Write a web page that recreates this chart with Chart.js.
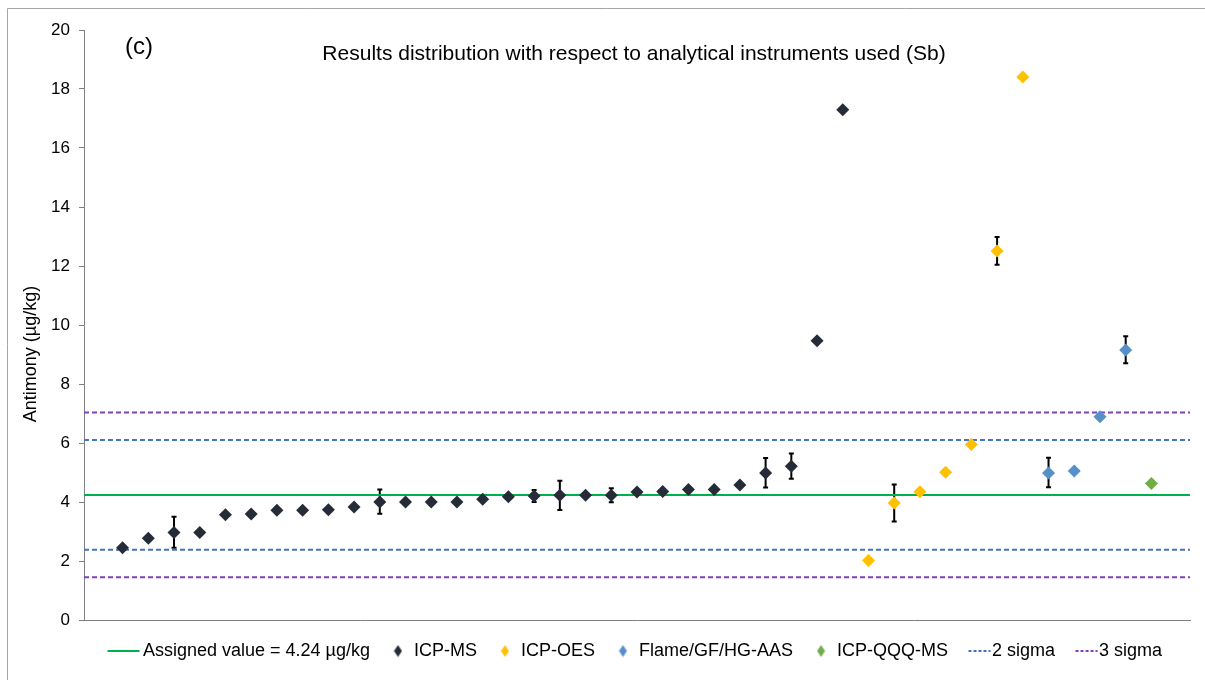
<!DOCTYPE html>
<html>
<head>
<meta charset="utf-8">
<script src="https://cdn.jsdelivr.net/npm/chart.js@4"></script>
<style>
  html, body { margin: 0; padding: 0; background: #fff; }
  #wrap { width: 1205px; height: 680px; position: relative; }
</style>
</head>
<body>
<div id="wrap"><canvas id="chart"></canvas></div>
<script>
// ── Data ────────────────────────────────────────────────
const TITLE = 'Results distribution with respect to analytical instruments used (Sb)';
const PANEL = '(c)';
const Y_TITLE = 'Antimony (µg/kg)';

const assignedValue = 4.24;
const sigma2 = [6.10, 2.38];
const sigma3 = [7.03, 1.45];

const icpMs   = [2.45, 2.77, 2.97, 2.97, 3.57, 3.59, 3.72, 3.72, 3.74, 3.83,
                 4.00, 4.00, 4.00, 4.00, 4.09, 4.18, 4.20, 4.23, 4.23, 4.23,
                 4.34, 4.36, 4.42, 4.42, 4.58, 4.98, 5.21, 9.47, 17.30];
const icpMsLo = [null, null, 2.45, null, null, null, null, null, null, null,
                 3.60, null, null, null, null, null, 4.00, 3.73, null, 3.99,
                 null, null, null, null, null, 4.49, 4.79, null, null];
const icpMsHi = [null, null, 3.50, null, null, null, null, null, null, null,
                 4.42, null, null, null, null, null, 4.41, 4.72, null, 4.47,
                 null, null, null, null, null, 5.49, 5.64, null, null];

const icpOes   = [2.02, 3.97, 4.35, 5.01, 5.95, 12.51, 18.41];
const icpOesLo = [null, 3.34, null, null, null, 12.04, null];
const icpOesHi = [null, 4.59, null, null, null, 12.98, null];

const aas   = [4.98, 5.05, 6.89, 9.15];
const aasLo = [4.50, null, null, 8.70];
const aasHi = [5.50, null, null, 9.62];

const qqq = [4.63];

const yTicks = [0, 2, 4, 6, 8, 10, 12, 14, 16, 18, 20];
const X_MIN = -0.5, X_MAX = 42.5;

// ── Helpers ─────────────────────────────────────────────
const FONT = '"Liberation Sans", Arial, sans-serif';
const COLORS = {
  assigned: '#00B050',
  icpMs:    '#252C38',
  icpOes:   '#FFC000',
  aas:      '#5591C8',
  qqq:      '#70AD47',
  sigma2:   '#4472C4',
  sigma3:   '#7F41BF',
};

// labs are ranked left to right, group after group
let rank = 0;
const toPoints = vals => vals.map(v => ({ x: ++rank, y: v }));
const hLine = v => [{ x: X_MIN, y: v }, { x: X_MAX, y: v }];

function icon(w, h, draw) {
  const c = document.createElement('canvas');
  c.width = w; c.height = h;
  draw(c.getContext('2d'));
  return c;
}
const diamondIcon = color => icon(9, 13, g => {
  g.fillStyle = color;
  g.beginPath();
  g.moveTo(4.5, 0.5); g.lineTo(8.5, 6.5); g.lineTo(4.5, 12.5); g.lineTo(0.5, 6.5);
  g.closePath(); g.fill();
});
const lineIcon = (w, x0, x1, color, dash) => icon(w, 4, g => {
  g.strokeStyle = color; g.lineWidth = 2; g.setLineDash(dash);
  g.beginPath(); g.moveTo(x0, 2); g.lineTo(x1, 2); g.stroke();
});

function pointSet(label, vals, lo, hi, color) {
  return {
    type: 'scatter', label, data: toPoints(vals), errLo: lo, errHi: hi,
    pointStyle: 'rectRot', pointRadius: 6.5, pointHoverRadius: 7,
    backgroundColor: color, borderColor: color, borderWidth: 0,
    legendIcon: diamondIcon(color), order: 0,
  };
}
function lineSet(label, v, color, dash, legend) {
  return {
    type: 'line', label, data: hLine(v), borderColor: color, backgroundColor: color,
    borderWidth: 2, borderDash: dash, pointRadius: 0, pointHoverRadius: 0,
    fill: false, legendIcon: legend, order: 1,
  };
}

const datasets = [
  lineSet('Assigned value = 4.24 µg/kg', assignedValue, COLORS.assigned, [],
          lineIcon(40, 0.5, 32.5, COLORS.assigned, [])),
  pointSet('ICP-MS', icpMs, icpMsLo, icpMsHi, COLORS.icpMs),
  pointSet('ICP-OES', icpOes, icpOesLo, icpOesHi, COLORS.icpOes),
  pointSet('Flame/GF/HG-AAS', aas, aasLo, aasHi, COLORS.aas),
  pointSet('ICP-QQQ-MS', qqq, null, null, COLORS.qqq),
  lineSet('2 sigma', sigma2[0], COLORS.sigma2, [5, 3],
          lineIcon(30, 7.5, 29.5, COLORS.sigma2, [3, 2])),
  lineSet('3 sigma', sigma3[0], COLORS.sigma3, [5, 3],
          lineIcon(30, 7.5, 29.5, COLORS.sigma3, [3, 2])),
  lineSet('2 sigma low', sigma2[1], COLORS.sigma2, [5, 3], null),
  lineSet('3 sigma low', sigma3[1], COLORS.sigma3, [5, 3], null),
];

// ── Plugins ─────────────────────────────────────────────
const errorBars = {
  id: 'errorBars',
  beforeDatasetsDraw(chart) {
    const { ctx, scales: { x, y } } = chart;
    ctx.save();
    ctx.strokeStyle = '#000';
    ctx.lineWidth = 2;
    chart.data.datasets.forEach(ds => {
      if (!ds.errLo) return;
      ds.data.forEach((p, i) => {
        if (ds.errLo[i] == null) return;
        const px = x.getPixelForValue(p.x);
        const y0 = y.getPixelForValue(ds.errLo[i]);
        const y1 = y.getPixelForValue(ds.errHi[i]);
        ctx.beginPath();
        ctx.moveTo(px, y0); ctx.lineTo(px, y1);
        ctx.moveTo(px - 2.5, y0); ctx.lineTo(px + 2.5, y0);
        ctx.moveTo(px - 2.5, y1); ctx.lineTo(px + 2.5, y1);
        ctx.stroke();
      });
    });
    ctx.restore();
  },
};

const frame = {
  id: 'frame',
  beforeDraw(chart) {
    const { ctx, width, height } = chart;
    ctx.save();
    ctx.strokeStyle = '#a6a6a6';
    ctx.lineWidth = 1;
    ctx.beginPath();
    ctx.moveTo(7.5, height); ctx.lineTo(7.5, 8.5); ctx.lineTo(width, 8.5);
    ctx.stroke();
    ctx.restore();
  },
  afterDraw(chart) {
    const { ctx, chartArea: a } = chart;
    ctx.save();
    ctx.fillStyle = '#000';
    ctx.textBaseline = 'middle';
    ctx.textAlign = 'center';
    ctx.font = '21px ' + FONT;
    ctx.fillText(TITLE, (a.left + a.right) / 2 - 3, a.top + 24);
    ctx.textAlign = 'left';
    ctx.font = '24px ' + FONT;
    ctx.fillText(PANEL, a.left + 41, a.top + 17);
    // y-axis title sits a little below the axis middle in the original
    ctx.translate(31, (a.top + a.bottom) / 2 + 29);
    ctx.rotate(-Math.PI / 2);
    ctx.textAlign = 'center';
    ctx.font = '18px ' + FONT;
    ctx.fillText(Y_TITLE, 0, 0);
    ctx.restore();
  },
};

// nudge the legend row a few px right, where the original has it
const legendShift = {
  id: 'legendShift',
  afterLayout(chart) {
    chart.legend.left += 4;
    chart.legend.right += 4;
  },
};

// ── Chart ───────────────────────────────────────────────
Chart.defaults.font.family = FONT;
Chart.defaults.color = '#000';

new Chart(document.getElementById('chart'), {
  type: 'scatter',
  data: { datasets },
  options: {
    responsive: true,
    maintainAspectRatio: false,
    animation: false,
    layout: { padding: { top: 30, right: 15, left: 0, bottom: 10 } },
    scales: {
      x: {
        type: 'linear', min: X_MIN, max: X_MAX,
        grid: { display: false, drawTicks: false },
        border: { display: true, color: '#808080', width: 1 },
        ticks: { display: false },
        afterFit: s => { s.height = 1; },
      },
      y: {
        min: 0, max: 20,
        afterBuildTicks: s => { s.ticks = yTicks.map(v => ({ value: v })); },
        grid: { drawOnChartArea: false, drawTicks: true, tickLength: 5, color: '#808080' },
        border: { display: true, color: '#808080', width: 1 },
        ticks: { font: { size: 17 }, color: '#000', padding: 9 },
        afterFit: s => { s.width = 84; },
      },
    },
    plugins: {
      legend: {
        position: 'bottom',
        fullSize: false,
        labels: {
          usePointStyle: true,
          boxWidth: 14,
          boxHeight: 10,
          padding: 21,
          color: '#000',
          font: { size: 18 },
          generateLabels: chart => chart.data.datasets
            .map((ds, i) => ({
              text: ds.label, pointStyle: ds.legendIcon, datasetIndex: i,
              hidden: !chart.isDatasetVisible(i), lineWidth: 0,
              fillStyle: 'transparent', strokeStyle: 'transparent',
            }))
            .filter(item => item.pointStyle),
        },
      },
      tooltip: { enabled: true },
    },
  },
  plugins: [errorBars, frame, legendShift],
});
</script>
</body>
</html>
